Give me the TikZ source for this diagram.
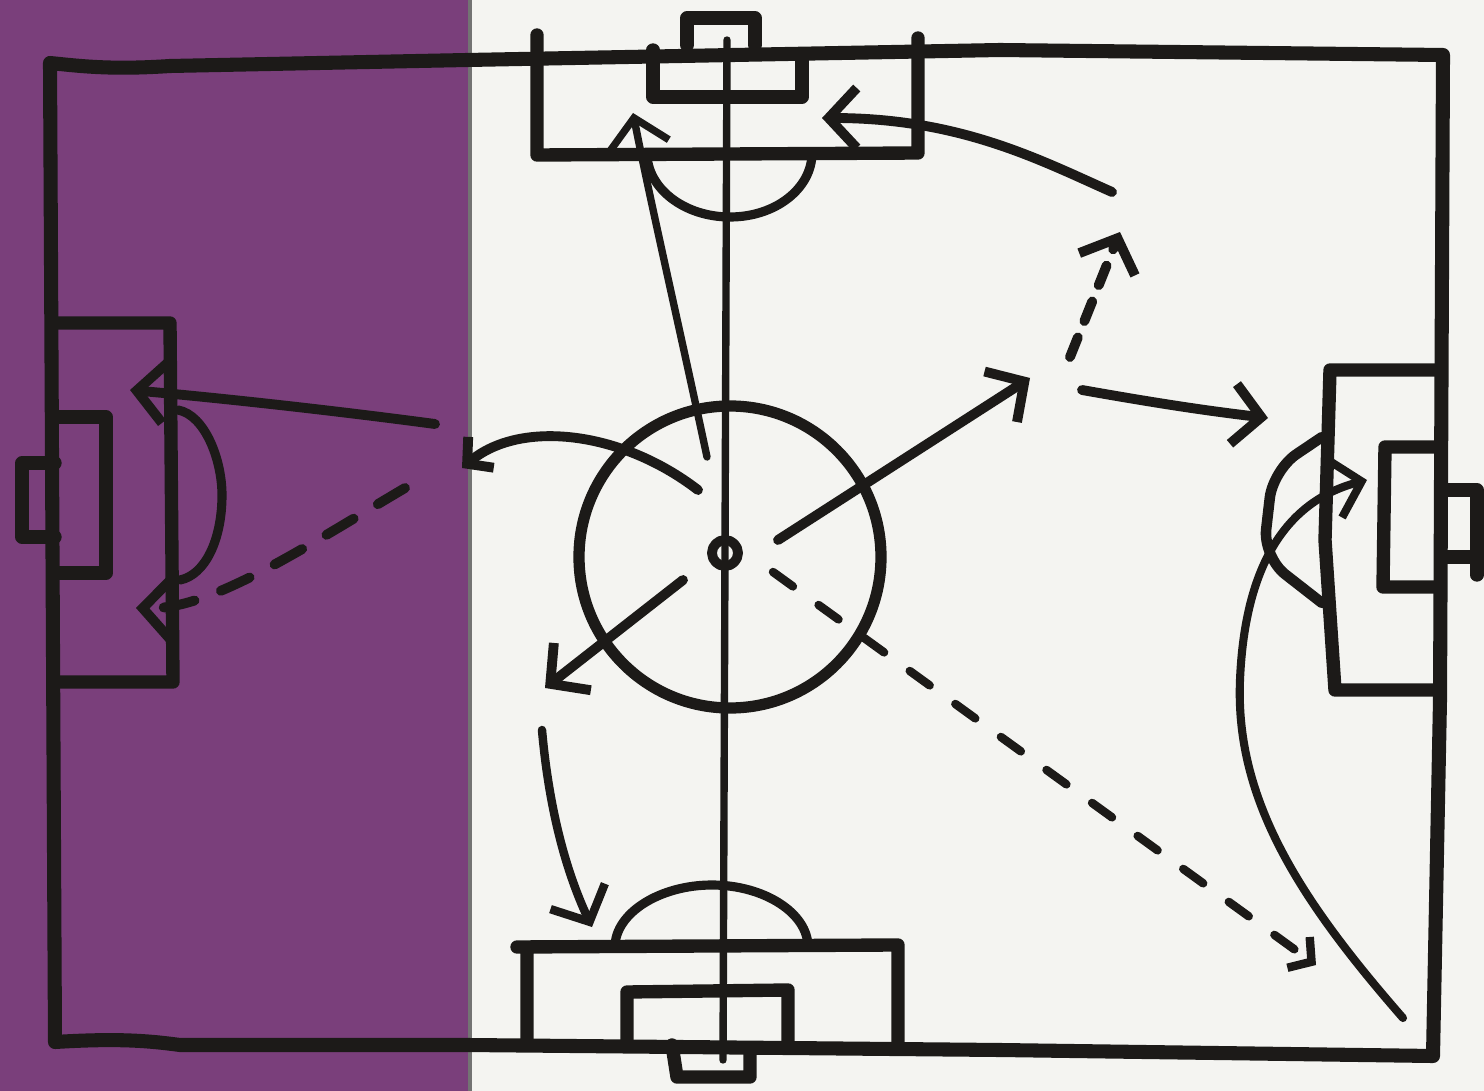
\documentclass[tikz,border=0pt]{standalone}
\usetikzlibrary{arrows.meta}
\definecolor{pagepurple}{RGB}{122,63,123}
\definecolor{paper}{RGB}{244,244,241}
\definecolor{inkc}{RGB}{28,26,24}
\begin{document}
\begin{tikzpicture}[x=0.01cm,y=-0.01cm,
  pen/.style={draw=inkc, line cap=round, line join=round},
  frameline/.style={pen, line width=4pt},
  boxline/.style={pen, line width=3.8pt},
  midline/.style={pen, line width=2.1pt},
  arcline/.style={pen, line width=2.6pt},
  arrowline/.style={pen, line width=2.8pt, -{Straight Barb[length=2.8mm,width=6mm]}},
  thinarrow/.style={arrowline, line width=2.1pt},
  dashedarrow/.style={arrowline, dash pattern=on 8pt off 8pt},
]
% page background
\useasboundingbox (0,0) rectangle (1484,1091);
\fill[paper] (0,0) rectangle (1484,1091);
\fill[pagepurple] (0,0) rectangle (470,1091);
\draw[black!55, line width=1pt] (470,0) -- (470,1091);

% outer pitch
\draw[frameline] (50,63) .. controls (80,66) and (110,70) .. (170,66) -- (467,60) -- (1000,50) -- (1443,55)
  -- (1440,700) -- (1433,1056) -- (1000,1050) -- (467,1045) -- (180,1045)
  .. controls (150,1041) and (120,1038) .. (55,1042) -- cycle;

% halfway line and centre circle
\draw[midline] (727,40) -- (723,1060);
\draw[pen, line width=3.2pt] (730,557) circle[radius=151];
\draw[pen, line width=2.8pt] (725,553) circle[radius=13];

% top penalty area
\draw[boxline] (537,35) -- (537,155) -- (918,153) -- (918,38);
\draw[boxline] (653,50) -- (653,97) -- (802,97) -- (802,55);
\draw[boxline] (687,45) -- (687,18) -- (755,18) -- (755,45);
\draw[arcline] (647,153) .. controls (647,188) and (684,217) .. (730,217)
  .. controls (776,217) and (812,188) .. (812,153);

% bottom penalty area
\draw[boxline] (527,1045) -- (527,947) -- (517,947) -- (895,945) -- (898,945) -- (898,1048);
\draw[boxline] (627,1045) -- (627,992) -- (788,990) -- (788,1045);
\draw[boxline] (672,1045) -- (677,1077) -- (750,1077) -- (750,1048);
\draw[arcline] (615,947) .. controls (615,913) and (660,885) .. (712,885)
  .. controls (764,885) and (808,913) .. (808,947);

% left penalty area (purple page)
\draw[boxline] (58,323) -- (170,323) -- (173,682) -- (58,682);
\draw[boxline] (58,417) -- (106,417) -- (106,573) -- (58,573);
\draw[boxline] (55,463) -- (22,463) -- (22,537) -- (55,537);
\draw[arcline] (178,410) .. controls (205,415) and (222,460) .. (222,495)
  .. controls (222,540) and (205,575) .. (180,580);

% right penalty area
\draw[boxline] (1440,370) -- (1330,370) -- (1325,540) -- (1335,690) -- (1440,690);
\draw[boxline] (1440,447) -- (1385,447) -- (1383,587) -- (1440,587);
\draw[boxline] (1443,490) -- (1477,490) -- (1477,575);
\draw[boxline] (1443,557) -- (1477,557);
\draw[arcline, line width=3pt, rounded corners=8pt] (1322,437) -- (1273,470) -- (1263,557) -- (1322,603);

% arrow end points
\coordinate (lsA) at (435,424);  \coordinate (lsB) at (130,390);
\coordinate (ldA) at (405,488);  \coordinate (ldB) at (136,608);
\coordinate (cpA) at (698,490);  \coordinate (cpB) at (462,468);
\coordinate (upA) at (707,457);  \coordinate (upB) at (633,113);
\coordinate (trA) at (1112,192); \coordinate (trB) at (822,118);
\coordinate (orA) at (778,540);  \coordinate (orB) at (1030,378);
\coordinate (dnA) at (1070,357); \coordinate (dnB) at (1120,232);
\coordinate (rtA) at (1082,390); \coordinate (rtB) at (1268,418);
\coordinate (rcA) at (1403,1018);\coordinate (rcB) at (1367,480);
\coordinate (dlA) at (683,580);  \coordinate (dlB) at (545,688);
\coordinate (bdA) at (542,730);  \coordinate (bdB) at (592,927);
\coordinate (drA) at (773,572);  \coordinate (drB) at (1316,965);

% arrows
\draw[arrowline] (lsA) .. controls (330,410) and (220,398) .. (lsB);
\draw[dashedarrow, dash pattern=on 9pt off 8pt] (ldA) .. controls (300,550) and (210,610) .. (ldB);
\draw[arrowline, -{Straight Barb[length=1.8mm,width=4mm]}] (cpA) .. controls (620,430) and (520,420) .. (cpB);
\draw[thinarrow] (upA) .. controls (680,330) and (650,200) .. (upB);
\draw[arrowline] (trA) .. controls (1040,160) and (960,118) .. (trB);
\draw[arrowline] (orA) -- (orB);
\draw[dashedarrow, dash pattern=on 6pt off 5pt] (dnA) -- (dnB);
\draw[arrowline] (rtA) .. controls (1150,402) and (1200,410) .. (rtB);
\draw[thinarrow, line width=2.3pt] (rcA) .. controls (1300,900) and (1235,800) .. (1240,680)
  .. controls (1245,560) and (1290,500) .. (rcB);
\draw[arrowline] (dlA) -- (dlB);
\draw[thinarrow, line width=2.4pt] (bdA) .. controls (550,820) and (570,880) .. (bdB);
\draw[dashedarrow, line width=2.4pt, dash pattern=on 7pt off 9pt,
  -{Straight Barb[length=1.6mm,width=3.8mm]}] (drA) -- (drB);
\end{tikzpicture}
\end{document}
